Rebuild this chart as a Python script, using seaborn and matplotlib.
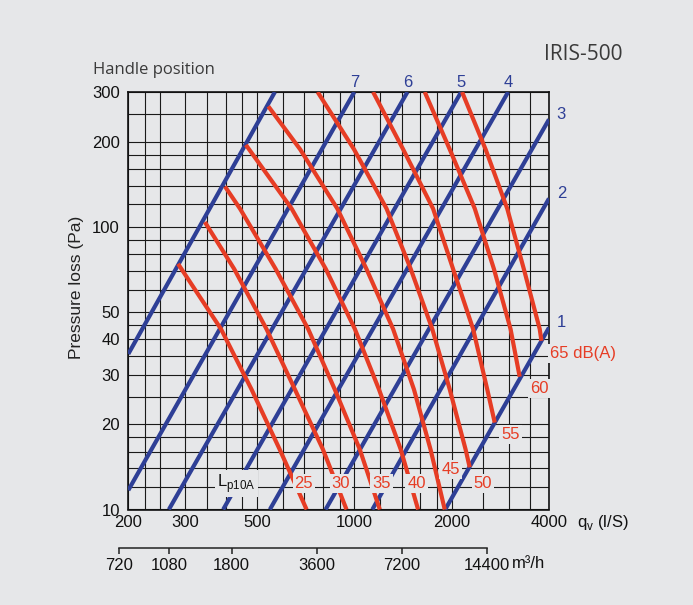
import numpy as np
import pandas as pd
import matplotlib
matplotlib.use("Agg")
import matplotlib.pyplot as plt
import seaborn as sns

### Chart values
# handle position lines (straight on log-log), start and end points
handle = ['', '7', '6', '5', '4', '3', '2', '1']
blue_q_lo = [200, 200, 267, 393, 548, 815, 1137, 1910]
blue_p_lo = [35.5, 11.7, 10, 10, 10, 10, 10, 10]
blue_q_hi = [568, 1000, 1460, 2140, 2990, 4000, 4000, 4000]
blue_p_hi = [300, 300, 300, 300, 300, 240, 126, 44]

# sound level curves Lp10A
levels = [25, 30, 35, 40, 45, 50, 55, 60, 65]
q25 = [285, 387, 481, 588, 712]
p25 = [74, 43.5, 26.6, 16.3, 10]
q30 = [345, 425, 535, 655, 800, 946]
p30 = [104, 71, 43.5, 26.6, 16.3, 10]
q35 = [398, 443, 571, 720, 870, 1040, 1199]
p35 = [139, 116, 71, 43.5, 26.6, 16.3, 10]
q40 = [462, 640, 816, 1004, 1192, 1392, 1575]
p40 = [195, 116, 71, 43.5, 26.6, 16.3, 10]
q45 = [542, 680, 886, 1090, 1318, 1529, 1721, 1904]
p45 = [267, 188, 116, 71, 43.5, 26.6, 16.3, 10]
q50 = [770, 998, 1258, 1494, 1742, 1973, 2209, 2274]
p50 = [300, 188, 116, 71, 43.5, 26.6, 16.3, 14.1]
q55 = [1143, 1416, 1752, 2020, 2330, 2577, 2718]
p55 = [300, 188, 116, 71, 43.5, 26.6, 20.3]
q60 = [1651, 1973, 2358, 2702, 3042, 3246]
p60 = [300, 188, 116, 71, 43.5, 29.5]
q65 = [2154, 2547, 2971, 3343, 3744, 3790]
p65 = [300, 188, 116, 71, 43.5, 39.5]

# axis ticks / grid
x_ticks = [200, 300, 500, 1000, 2000, 4000]
x_grid = [225, 250, 350, 400, 450, 600, 700, 800, 900, 1200, 1400,
          1600, 1800, 2500, 3000, 3500]
y_ticks = [10, 20, 30, 40, 50, 100, 200, 300]
y_grid = [12, 14, 16, 18, 25, 35, 45, 60, 70, 80, 90, 120, 140, 160, 180, 250]
m3h_ticks = [720, 1080, 1800, 3600, 7200, 14400]

BG = '#e6e7e9'
BLUE = '#2e3f96'
RED = '#e63d25'
W, H = 693, 605


def fx(px):
    return px / W


def fy(py):
    return 1 - py / H


sns.set_theme(style='white')
plt.rcParams['font.family'] = ['Liberation Sans', 'DejaVu Sans']
plt.rcParams['mathtext.fontset'] = 'custom'
plt.rcParams['mathtext.rm'] = 'Liberation Sans'

## tidy frames for seaborn
blue_df = pd.DataFrame({
    'q': [v for pair in zip(blue_q_lo, blue_q_hi) for v in pair],
    'p': [v for pair in zip(blue_p_lo, blue_p_hi) for v in pair],
    'line': [i for i in range(len(handle)) for _ in range(2)],
})
red_q = [q25, q30, q35, q40, q45, q50, q55, q60, q65]
red_p = [p25, p30, p35, p40, p45, p50, p55, p60, p65]
red_df = pd.concat([pd.DataFrame({'q': q, 'p': p, 'level': lv})
                    for q, p, lv in zip(red_q, red_p, levels)])

fig = plt.figure(figsize=(W / 100, H / 100), dpi=100, facecolor=BG)
ax = fig.add_axes([fx(128.3), fy(509.5), fx(549) - fx(128.3), fy(92) - fy(509.5)])
ax.set_facecolor(BG)

sns.lineplot(data=blue_df, x='q', y='p', units='line', estimator=None,
             sort=False, color=BLUE, lw=3, ax=ax, zorder=3,
             solid_capstyle='butt')
sns.lineplot(data=red_df, x='q', y='p', units='level', estimator=None,
             sort=False, color=RED, lw=3, ax=ax, zorder=4,
             solid_capstyle='butt', solid_joinstyle='round')

ax.set_xscale('log')
ax.set_yscale('log')
ax.set_xlim(200, 4000)
ax.set_ylim(10, 300)
ax.set_xticks(x_ticks)
ax.set_xticklabels([str(v) for v in x_ticks])
ax.set_xticks(x_grid, minor=True)
ax.set_xticklabels([], minor=True)
ax.set_yticks(y_ticks)
ax.set_yticklabels([str(v) for v in y_ticks])
ax.set_yticks(y_grid, minor=True)
ax.set_yticklabels([], minor=True)
ax.tick_params(which='both', length=0, labelsize=12, colors='#111111')
ax.tick_params(axis='x', pad=4)
ax.tick_params(axis='y', pad=6)
ax.grid(True, which='both', color='#1a1a1a', lw=0.8, zorder=1)
ax.set_axisbelow(True)
ax.set_xlabel('')
ax.set_ylabel('')
for s in ax.spines.values():
    s.set_color('#111111')
    s.set_linewidth(1.2)

## handle position labels at line ends
for i, h in enumerate(handle):
    if not h:
        continue
    if blue_p_hi[i] >= 300:
        ax.text(blue_q_hi[i], 324, h, ha='center', va='center', color=BLUE,
                fontsize=12, clip_on=False)
    else:
        ax.text(4369, blue_p_hi[i] * 1.04, h, ha='center', va='center',
                color=BLUE, fontsize=12, clip_on=False)

## sound level labels
box = dict(boxstyle='square,pad=0.12', fc=BG, ec='none')
lab_pos = [(698, 12.4), (909, 12.4), (1214, 12.4), (1557, 12.4), (1987, 13.8),
           (2500, 12.4), (3046, 18.4), (3730, 26.8)]
for lv, (qx, py) in zip(levels[:-1], lab_pos):
    ax.text(qx, py, str(lv), ha='center', va='center', color=RED,
            fontsize=12, bbox=box, zorder=6)
ax.text(4030, 35.6, '65 dB(A)', ha='left', va='center', color=RED,
        fontsize=12, bbox=box, zorder=6, clip_on=False)
ax.text(433, 12.4, r'L$_\mathregular{p10A}$', ha='center', va='center',
        color='#111111', fontsize=12, bbox=box, zorder=6)

## second flow scale in m3/h
ax2 = fig.add_axes([fx(119.3), fy(548), fx(486.7) - fx(119.3), 0.0001])
ax2.set_facecolor('none')
ax2.set_xscale('log')
ax2.set_xlim(720, 14400)
ax2.set_xticks(m3h_ticks)
ax2.set_xticklabels([str(v) for v in m3h_ticks])
ax2.set_xticks([], minor=True)
ax2.set_yticks([])
for k in ['top', 'left', 'right']:
    ax2.spines[k].set_visible(False)
ax2.spines['bottom'].set_color('#222222')
ax2.spines['bottom'].set_linewidth(1.1)
ax2.tick_params(axis='x', bottom=True, direction='out', length=4.5, width=1.1,
                color='#222222', pad=3, labelsize=12, labelcolor='#111111')

## other texts
fig.text(fx(577), fy(523), r'q$_\mathregular{v}$ (l/S)', ha='left', va='center',
         fontsize=12, color='#111111')
fig.text(fx(512), fy(564), 'm³/h', ha='left', va='center', fontsize=12,
         color='#111111')
fig.text(fx(77), fy(287), 'Pressure loss (Pa)', rotation=90, ha='center',
         va='center', fontsize=12.5, color='#222222')
fig.text(fx(93), fy(70), 'Handle position', ha='left', va='center',
         fontsize=12, color='#3a3a3a', family=['Open Sans', 'DejaVu Sans'])
fig.text(fx(622), fy(55), 'IRIS-500', ha='right', va='center',
         fontsize=15, color='#3a3a3a', family=['Open Sans', 'DejaVu Sans'])

fig.savefig('out.png', dpi=100, facecolor=BG)
